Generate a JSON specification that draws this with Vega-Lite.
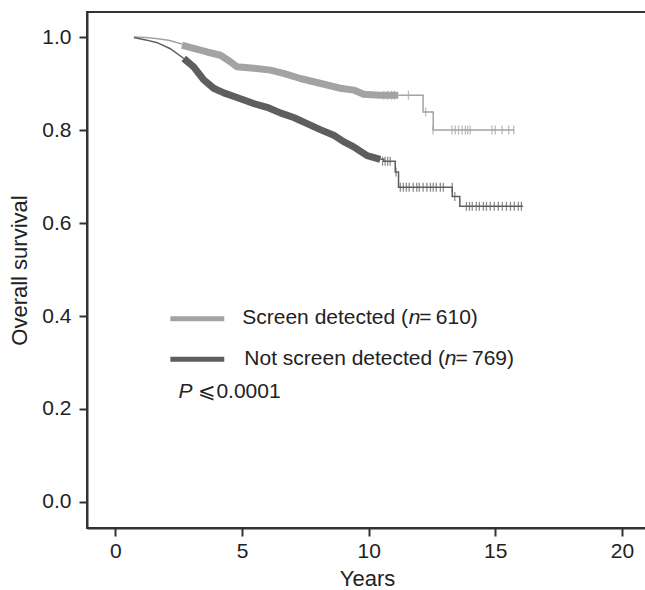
{
  "$schema": "https://vega.github.io/schema/vega-lite/v6.json",
  "width": 560,
  "height": 516,
  "autosize": {"type": "none"},
  "padding": {"left": 87, "top": 12, "right": 0, "bottom": 62},
  "background": "white",
  "config": {
    "view": {"stroke": "#333333", "strokeWidth": 2},
    "axis": {
      "grid": false,
      "domainColor": "#333333",
      "domainWidth": 2,
      "tickColor": "#333333",
      "tickWidth": 2,
      "tickSize": 8,
      "labelFont": "Liberation Sans",
      "labelFontSize": 21,
      "labelColor": "#222222",
      "titleFont": "Liberation Sans",
      "titleFontSize": 22,
      "titleFontWeight": "normal",
      "titleColor": "#222222"
    },
    "text": {"font": "Liberation Sans", "fontSize": 21, "color": "#222222"}
  },
  "datasets": {
    "curves": [
      {"series": "Screen detected", "seg": "start", "t": 0.73, "S": 1.0},
      {"series": "Screen detected", "seg": "start", "t": 1.2, "S": 0.999},
      {"series": "Screen detected", "seg": "start", "t": 1.6, "S": 0.997},
      {"series": "Screen detected", "seg": "start", "t": 2.1, "S": 0.993},
      {"series": "Screen detected", "seg": "start", "t": 2.63, "S": 0.985},
      {"series": "Not screen detected", "seg": "start", "t": 0.73, "S": 0.999},
      {"series": "Not screen detected", "seg": "start", "t": 1.2, "S": 0.994},
      {"series": "Not screen detected", "seg": "start", "t": 1.65, "S": 0.988},
      {"series": "Not screen detected", "seg": "start", "t": 2.17, "S": 0.975},
      {"series": "Not screen detected", "seg": "start", "t": 2.7, "S": 0.954},
      {"series": "Screen detected", "seg": "band", "t": 2.63, "S": 0.983},
      {"series": "Screen detected", "seg": "band", "t": 3.09, "S": 0.976},
      {"series": "Screen detected", "seg": "band", "t": 3.62, "S": 0.968},
      {"series": "Screen detected", "seg": "band", "t": 4.15, "S": 0.961},
      {"series": "Screen detected", "seg": "band", "t": 4.54, "S": 0.947},
      {"series": "Screen detected", "seg": "band", "t": 4.8, "S": 0.936},
      {"series": "Screen detected", "seg": "band", "t": 5.46, "S": 0.933},
      {"series": "Screen detected", "seg": "band", "t": 6.12, "S": 0.929},
      {"series": "Screen detected", "seg": "band", "t": 6.64, "S": 0.922},
      {"series": "Screen detected", "seg": "band", "t": 7.3, "S": 0.911},
      {"series": "Screen detected", "seg": "band", "t": 7.83, "S": 0.904},
      {"series": "Screen detected", "seg": "band", "t": 8.36, "S": 0.897},
      {"series": "Screen detected", "seg": "band", "t": 8.88, "S": 0.89},
      {"series": "Screen detected", "seg": "band", "t": 9.41, "S": 0.886},
      {"series": "Screen detected", "seg": "band", "t": 9.8, "S": 0.877},
      {"series": "Screen detected", "seg": "band", "t": 10.46, "S": 0.875},
      {"series": "Screen detected", "seg": "band", "t": 11.17, "S": 0.875},
      {"series": "Not screen detected", "seg": "band", "t": 2.7, "S": 0.954},
      {"series": "Not screen detected", "seg": "band", "t": 3.09, "S": 0.936},
      {"series": "Not screen detected", "seg": "band", "t": 3.49, "S": 0.908},
      {"series": "Not screen detected", "seg": "band", "t": 3.88, "S": 0.89},
      {"series": "Not screen detected", "seg": "band", "t": 4.28, "S": 0.88},
      {"series": "Not screen detected", "seg": "band", "t": 4.8, "S": 0.87},
      {"series": "Not screen detected", "seg": "band", "t": 5.46, "S": 0.857},
      {"series": "Not screen detected", "seg": "band", "t": 5.99, "S": 0.849},
      {"series": "Not screen detected", "seg": "band", "t": 6.51, "S": 0.837},
      {"series": "Not screen detected", "seg": "band", "t": 7.04, "S": 0.827},
      {"series": "Not screen detected", "seg": "band", "t": 7.57, "S": 0.814},
      {"series": "Not screen detected", "seg": "band", "t": 8.09, "S": 0.801},
      {"series": "Not screen detected", "seg": "band", "t": 8.62, "S": 0.789},
      {"series": "Not screen detected", "seg": "band", "t": 9.01, "S": 0.775},
      {"series": "Not screen detected", "seg": "band", "t": 9.41, "S": 0.764},
      {"series": "Not screen detected", "seg": "band", "t": 9.94, "S": 0.745},
      {"series": "Not screen detected", "seg": "band", "t": 10.46, "S": 0.737},
      {"series": "Screen detected", "seg": "tail", "t": 11.17, "S": 0.875},
      {"series": "Screen detected", "seg": "tail", "t": 12.15, "S": 0.839},
      {"series": "Screen detected", "seg": "tail", "t": 12.55, "S": 0.8},
      {"series": "Screen detected", "seg": "tail", "t": 15.75, "S": 0.8},
      {"series": "Not screen detected", "seg": "tail", "t": 10.46, "S": 0.737},
      {"series": "Not screen detected", "seg": "tail", "t": 10.6, "S": 0.733},
      {"series": "Not screen detected", "seg": "tail", "t": 11.05, "S": 0.71},
      {"series": "Not screen detected", "seg": "tail", "t": 11.18, "S": 0.677},
      {"series": "Not screen detected", "seg": "tail", "t": 13.3, "S": 0.657},
      {"series": "Not screen detected", "seg": "tail", "t": 13.6, "S": 0.636},
      {"series": "Not screen detected", "seg": "tail", "t": 16.1, "S": 0.636}
    ],
    "censor": [
      {"series": "Screen detected", "t": 10.6, "S": 0.875},
      {"series": "Screen detected", "t": 10.75, "S": 0.875},
      {"series": "Screen detected", "t": 10.9, "S": 0.875},
      {"series": "Screen detected", "t": 11.02, "S": 0.875},
      {"series": "Screen detected", "t": 11.57, "S": 0.875},
      {"series": "Screen detected", "t": 12.25, "S": 0.839},
      {"series": "Screen detected", "t": 12.54, "S": 0.8},
      {"series": "Screen detected", "t": 13.29, "S": 0.8},
      {"series": "Screen detected", "t": 13.42, "S": 0.8},
      {"series": "Screen detected", "t": 13.55, "S": 0.8},
      {"series": "Screen detected", "t": 13.69, "S": 0.8},
      {"series": "Screen detected", "t": 13.82, "S": 0.8},
      {"series": "Screen detected", "t": 13.91, "S": 0.8},
      {"series": "Screen detected", "t": 14.01, "S": 0.8},
      {"series": "Screen detected", "t": 14.87, "S": 0.8},
      {"series": "Screen detected", "t": 15.0, "S": 0.8},
      {"series": "Screen detected", "t": 15.27, "S": 0.8},
      {"series": "Screen detected", "t": 15.53, "S": 0.8},
      {"series": "Screen detected", "t": 15.73, "S": 0.8},
      {"series": "Not screen detected", "t": 10.55, "S": 0.733},
      {"series": "Not screen detected", "t": 10.65, "S": 0.733},
      {"series": "Not screen detected", "t": 10.75, "S": 0.733},
      {"series": "Not screen detected", "t": 10.85, "S": 0.733},
      {"series": "Not screen detected", "t": 11.08, "S": 0.71},
      {"series": "Not screen detected", "t": 11.25, "S": 0.677},
      {"series": "Not screen detected", "t": 11.37, "S": 0.677},
      {"series": "Not screen detected", "t": 11.49, "S": 0.677},
      {"series": "Not screen detected", "t": 11.6, "S": 0.677},
      {"series": "Not screen detected", "t": 11.76, "S": 0.677},
      {"series": "Not screen detected", "t": 11.9, "S": 0.677},
      {"series": "Not screen detected", "t": 12.0, "S": 0.677},
      {"series": "Not screen detected", "t": 12.15, "S": 0.677},
      {"series": "Not screen detected", "t": 12.3, "S": 0.677},
      {"series": "Not screen detected", "t": 12.44, "S": 0.677},
      {"series": "Not screen detected", "t": 12.55, "S": 0.677},
      {"series": "Not screen detected", "t": 12.67, "S": 0.677},
      {"series": "Not screen detected", "t": 12.83, "S": 0.677},
      {"series": "Not screen detected", "t": 12.95, "S": 0.677},
      {"series": "Not screen detected", "t": 13.3, "S": 0.677},
      {"series": "Not screen detected", "t": 13.4, "S": 0.657},
      {"series": "Not screen detected", "t": 13.86, "S": 0.636},
      {"series": "Not screen detected", "t": 13.98, "S": 0.636},
      {"series": "Not screen detected", "t": 14.09, "S": 0.636},
      {"series": "Not screen detected", "t": 14.25, "S": 0.636},
      {"series": "Not screen detected", "t": 14.37, "S": 0.636},
      {"series": "Not screen detected", "t": 14.53, "S": 0.636},
      {"series": "Not screen detected", "t": 14.65, "S": 0.636},
      {"series": "Not screen detected", "t": 14.8, "S": 0.636},
      {"series": "Not screen detected", "t": 14.96, "S": 0.636},
      {"series": "Not screen detected", "t": 15.12, "S": 0.636},
      {"series": "Not screen detected", "t": 15.28, "S": 0.636},
      {"series": "Not screen detected", "t": 15.44, "S": 0.636},
      {"series": "Not screen detected", "t": 15.6, "S": 0.636},
      {"series": "Not screen detected", "t": 15.75, "S": 0.636},
      {"series": "Not screen detected", "t": 15.91, "S": 0.636},
      {"series": "Not screen detected", "t": 16.03, "S": 0.636}
    ],
    "legendLines": [
      {"series": "Screen detected", "t": 2.17, "S": 0.394},
      {"series": "Screen detected", "t": 4.3, "S": 0.394},
      {"series": "Not screen detected", "t": 2.17, "S": 0.307},
      {"series": "Not screen detected", "t": 4.3, "S": 0.307}
    ],
    "textNormal": [
      {"label": "Screen detected (", "t": 5.01, "S": 0.382},
      {"label": "\u2009=\u2009610)", "t": 12.0, "S": 0.382},
      {"label": "Not screen detected (", "t": 5.09, "S": 0.2946},
      {"label": "\u2009=\u2009769)", "t": 13.43, "S": 0.2946},
      {"label": "⩽", "t": 3.28, "S": 0.224},
      {"label": "0.0001", "t": 3.99, "S": 0.224}
    ],
    "textItalic": [
      {"label": "n", "t": 11.58, "S": 0.382},
      {"label": "n", "t": 13.0, "S": 0.2946},
      {"label": "P", "t": 2.49, "S": 0.224}
    ]
  },
  "encoding": {
    "x": {
      "field": "t", "type": "quantitative",
      "scale": {"domain": [-1.12, 20.99], "nice": false, "zero": false},
      "axis": {"title": "Years", "values": [0, 5, 10, 15, 20], "labelPadding": 4, "titlePadding": 7}
    },
    "y": {
      "field": "S", "type": "quantitative",
      "scale": {"domain": [-0.056, 1.054], "nice": false, "zero": false},
      "axis": {"title": "Overall survival", "values": [0, 0.2, 0.4, 0.6, 0.8, 1.0], "format": ".1f", "labelPadding": 8, "titlePadding": 10}
    }
  },
  "layer": [
    {
      "data": {"name": "curves"},
      "transform": [{"filter": "datum.seg === 'start'"}],
      "mark": {"type": "line", "strokeWidth": 1.5, "interpolate": "linear"},
      "encoding": {
        "color": {"field": "series", "type": "nominal", "scale": {"domain": ["Screen detected", "Not screen detected"], "range": ["#a3a3a3", "#5e5e5e"]}, "legend": null}
      }
    },
    {
      "data": {"name": "curves"},
      "transform": [{"filter": "datum.seg === 'band'"}],
      "mark": {"type": "line", "strokeWidth": 7, "interpolate": "linear", "strokeJoin": "round"},
      "encoding": {
        "color": {"field": "series", "type": "nominal", "legend": null}
      }
    },
    {
      "data": {"name": "curves"},
      "transform": [{"filter": "datum.seg === 'tail'"}],
      "mark": {"type": "line", "strokeWidth": 1.5, "interpolate": "step-after"},
      "encoding": {
        "color": {"field": "series", "type": "nominal", "legend": null}
      }
    },
    {
      "data": {"name": "censor"},
      "mark": {"type": "tick", "orient": "vertical", "size": 9, "thickness": 1.3},
      "encoding": {
        "color": {"field": "series", "type": "nominal", "legend": null}
      }
    },
    {
      "data": {"name": "legendLines"},
      "mark": {"type": "line", "strokeWidth": 5},
      "encoding": {
        "color": {"field": "series", "type": "nominal", "legend": null}
      }
    },
    {
      "data": {"name": "textNormal"},
      "mark": {"type": "text", "align": "left", "baseline": "alphabetic"},
      "encoding": {"text": {"field": "label"}}
    },
    {
      "data": {"name": "textItalic"},
      "mark": {"type": "text", "align": "left", "baseline": "alphabetic", "fontStyle": "italic"},
      "encoding": {"text": {"field": "label"}}
    }
  ]
}
